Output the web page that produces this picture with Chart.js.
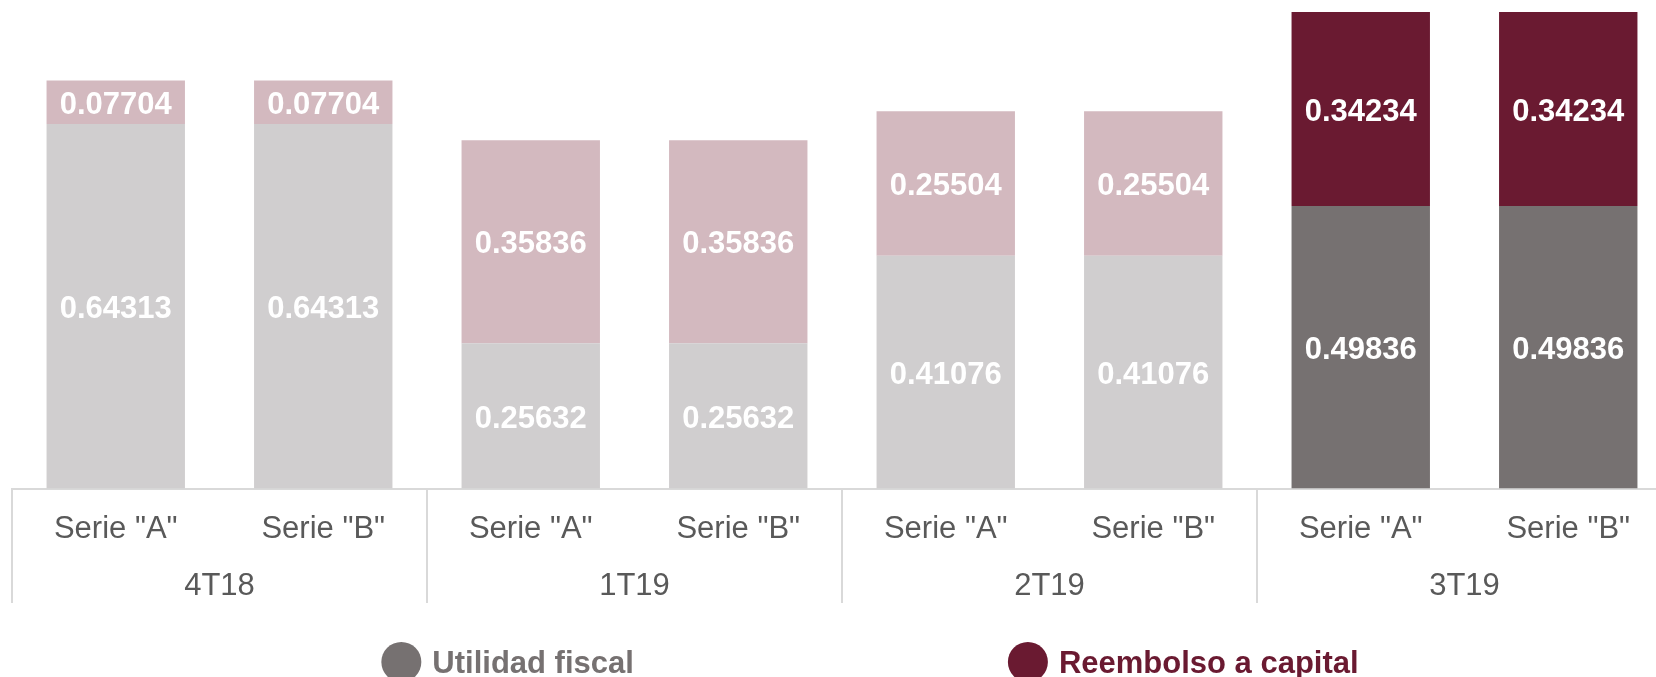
<!DOCTYPE html>
<html lang="es">
<head>
    <meta charset="UTF-8">
    <title>Utilidad fiscal y reembolso a capital</title>
    <style>
        body {
            margin: 0;
            overflow: hidden;
            background: #ffffff;
        }
        #wrap {
            position: relative;
            width: 1680px;
            height: 677px;
        }
    </style>
</head>
<body>
    <div id="wrap">
        <canvas id="chart"></canvas>
    </div>

    <script src="https://cdn.jsdelivr.net/npm/chart.js"></script>
    <script>
        // datos
        const series = ['Serie "A"', 'Serie "B"', 'Serie "A"', 'Serie "B"', 'Serie "A"', 'Serie "B"', 'Serie "A"', 'Serie "B"'];
        const periods = ['4T18', '1T19', '2T19', '3T19'];
        const utilidadFiscal = [0.64313, 0.64313, 0.25632, 0.25632, 0.41076, 0.41076, 0.49836, 0.49836];
        const reembolsoCapital = [0.07704, 0.07704, 0.35836, 0.35836, 0.25504, 0.25504, 0.34234, 0.34234];
        const currentPeriod = 3; // 3T19 va resaltado

        const FONT = '"Liberation Sans", Arial, sans-serif';
        const grisClaro = '#d0cecf';
        const grisOscuro = '#767171';
        const rosaClaro = '#d3b9bf';
        const vino = '#6a1a31';
        const lineaEje = '#d9d9d9';

        // colores por barra: el periodo actual en tono fuerte
        const colorsFor = (light, dark) => series.map((s, i) => Math.floor(i / 2) === currentPeriod ? dark : light);

        // etiquetas de valor dentro de cada segmento
        const valueLabels = {
            id: 'valueLabels',
            afterDatasetsDraw(chart) {
                const ctx = chart.ctx;
                ctx.save();
                ctx.font = 'bold 31px ' + FONT;
                ctx.fillStyle = '#ffffff';
                ctx.textAlign = 'center';
                ctx.textBaseline = 'middle';
                chart.data.datasets.forEach((ds, di) => {
                    chart.getDatasetMeta(di).data.forEach((bar, i) => {
                        ctx.fillText(ds.data[i].toFixed(5), bar.x, (bar.y + bar.base) / 2 + 3);
                    });
                });
                ctx.restore();
            }
        };

        // separadores verticales entre periodos, del eje hasta abajo de las etiquetas
        const periodDividers = {
            id: 'periodDividers',
            afterDraw(chart) {
                const p = chart.scales.x2;
                const half = (p.getPixelForValue(1) - p.getPixelForValue(0)) / 2;
                const ctx = chart.ctx;
                ctx.save();
                ctx.strokeStyle = lineaEje;
                ctx.lineWidth = 2;
                ctx.beginPath();
                for (let i = 0; i <= periods.length; i++) {
                    const x = p.getPixelForValue(0) - half + i * half * 2;
                    ctx.moveTo(x, chart.chartArea.bottom);
                    ctx.lineTo(x, p.bottom);
                }
                ctx.stroke();
                ctx.restore();
            }
        };

        // leyenda abajo con mucha separacion entre elementos
        const bottomLegend = {
            id: 'bottomLegend',
            afterDraw(chart, args, opts) {
                const ctx = chart.ctx;
                ctx.save();
                ctx.font = 'bold 31px ' + FONT;
                ctx.textBaseline = 'middle';
                const r = 20, textGap = 31;
                const items = chart.data.datasets.map(ds => {
                    const w = ctx.measureText(ds.label).width;
                    return {label: ds.label, color: ds.legendColor, w: r + textGap + w};
                });
                const total = items.reduce((a, it) => a + it.w, 0) + opts.gap * (items.length - 1);
                let x = opts.centerX - total / 2;
                items.forEach(it => {
                    ctx.fillStyle = it.color;
                    ctx.beginPath();
                    ctx.arc(x + r, opts.y, r, 0, Math.PI * 2);
                    ctx.fill();
                    ctx.fillText(it.label, x + r + textGap, opts.y + 2);
                    x += it.w + opts.gap;
                });
                ctx.restore();
            }
        };

        const ctx = document.getElementById('chart').getContext('2d');
        const chart = new Chart(ctx, {
            type: 'bar',
            data: {
                labels: series,
                datasets: [{
                    label: 'Utilidad fiscal',
                    data: utilidadFiscal,
                    backgroundColor: colorsFor(grisClaro, grisOscuro),
                    legendColor: grisOscuro,
                    barPercentage: 0.667,
                    categoryPercentage: 1
                }, {
                    label: 'Reembolso a capital',
                    data: reembolsoCapital,
                    backgroundColor: colorsFor(rosaClaro, vino),
                    legendColor: vino,
                    barPercentage: 0.667,
                    categoryPercentage: 1
                }]
            },
            options: {
                responsive: true,
                maintainAspectRatio: false,
                animation: false,
                layout: {
                    padding: {left: 12, right: 8, top: 0, bottom: 74}
                },
                plugins: {
                    legend: {display: false},
                    tooltip: {enabled: false},
                    bottomLegend: {centerX: 870, y: 662, gap: 374}
                },
                scales: {
                    x: {
                        stacked: true,
                        weight: 0,
                        border: {color: lineaEje, width: 2},
                        grid: {display: false, drawTicks: false},
                        ticks: {
                            padding: 22,
                            color: '#595959',
                            font: {size: 31, family: FONT}
                        }
                    },
                    x2: {
                        type: 'category',
                        labels: periods,
                        position: 'bottom',
                        weight: 1,
                        offset: true,
                        grid: {display: false, drawTicks: false},
                        border: {display: false},
                        ticks: {
                            padding: -2,
                            color: '#595959',
                            font: {size: 31, family: FONT}
                        }
                    },
                    y: {
                        display: false,
                        stacked: true,
                        min: 0,
                        max: 0.862
                    }
                }
            },
            plugins: [valueLabels, periodDividers, bottomLegend]
        });
    </script>
</body>
</html>
